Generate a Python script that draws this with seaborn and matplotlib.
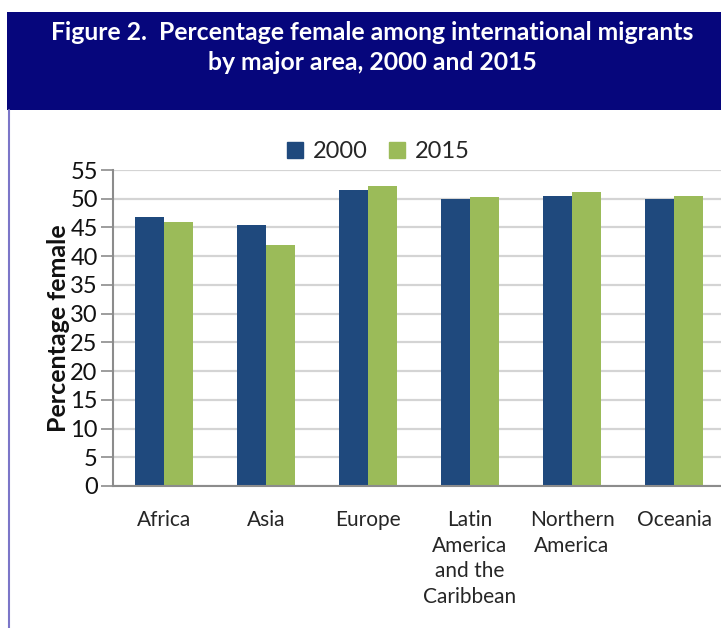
import matplotlib
matplotlib.use("Agg")
import matplotlib.pyplot as plt
import seaborn as sns
import pandas as pd
from matplotlib.patches import Rectangle
from matplotlib.lines import Line2D

categories = ["Africa", "Asia", "Europe", "Latin\nAmerica\nand the\nCaribbean", "Northern\nAmerica", "Oceania"]
years = ["2000", "2015"]
values_2000 = [46.8, 45.5, 51.5, 50.0, 50.4, 50.0]
values_2015 = [46.0, 41.9, 52.2, 50.3, 51.2, 50.5]
y_ticks = list(range(0, 56, 5))
colors = {"2000": "#1f497d", "2015": "#9bbb59"}

df = pd.DataFrame({
    "area": categories * 2,
    "year": ["2000"] * len(categories) + ["2015"] * len(categories),
    "value": values_2000 + values_2015,
})

sns.set_theme(style="white")
plt.rcParams["font.family"] = ["Lato", "DejaVu Sans"]

fig = plt.figure(figsize=(7.21, 6.28), dpi=100)
ax = fig.add_axes([113 / 721, 142 / 628, 612 / 721, 316 / 628])

sns.barplot(data=df, x="area", y="value", hue="year", palette=colors,
            width=0.57, saturation=1, ax=ax, legend=False, linewidth=0, edgecolor="none")

ax.set_ylim(0, 55)
ax.set_xlim(-0.5, 5.5)
ax.set_yticks(y_ticks)
ax.set_yticklabels([str(t) for t in y_ticks], fontsize=17, color="#111111")
ax.tick_params(axis="y", length=9, width=1.2, color="#8c8c8c", pad=2, direction="out", left=True)
ax.tick_params(axis="x", length=0, pad=17, labelsize=15)
for lab in ax.get_xticklabels():
    lab.set_linespacing(1.37)
    lab.set_verticalalignment("top")
ax.set_xlabel("")
ax.set_ylabel("Percentage female", fontsize=18, fontweight="bold", labelpad=0, color="#111111")
ax.yaxis.grid(True, color="#d4d4d4", linewidth=1.6)
ax.set_axisbelow(True)
for s in ["top", "right"]:
    ax.spines[s].set_visible(False)
for s in ["left", "bottom"]:
    ax.spines[s].set_color("#8c8c8c")
    ax.spines[s].set_linewidth(1.5)

# legend
handles = [Rectangle((0, 0), 1, 1, color=colors[y]) for y in years]
fig.legend(handles, years, loc="center", bbox_to_anchor=(378 / 721, 1 - 152 / 628), ncol=2,
           frameon=False, fontsize=17, handlelength=0.7, handleheight=0.7,
           handletextpad=0.4, columnspacing=0.9)

# header band
fig.patches.append(Rectangle((7 / 721, 1 - 110 / 628), 714 / 721, 98 / 628,
                             transform=fig.transFigure, facecolor="#06067c", edgecolor="none", zorder=0))
fig.lines.append(Line2D([9 / 721, 9 / 721], [0, 1 - 110 / 628], transform=fig.transFigure,
                        color="#7b76c8", linewidth=1.5))
fig.text(372 / 721, 1 - 33 / 628, "Figure 2.  Percentage female among international migrants",
         color="white", fontsize=17.8, fontweight="bold", ha="center", va="center")
fig.text(372 / 721, 1 - 62 / 628, "by major area, 2000 and 2015",
         color="white", fontsize=17.8, fontweight="bold", ha="center", va="center")

fig.savefig("out.png", dpi=100)
